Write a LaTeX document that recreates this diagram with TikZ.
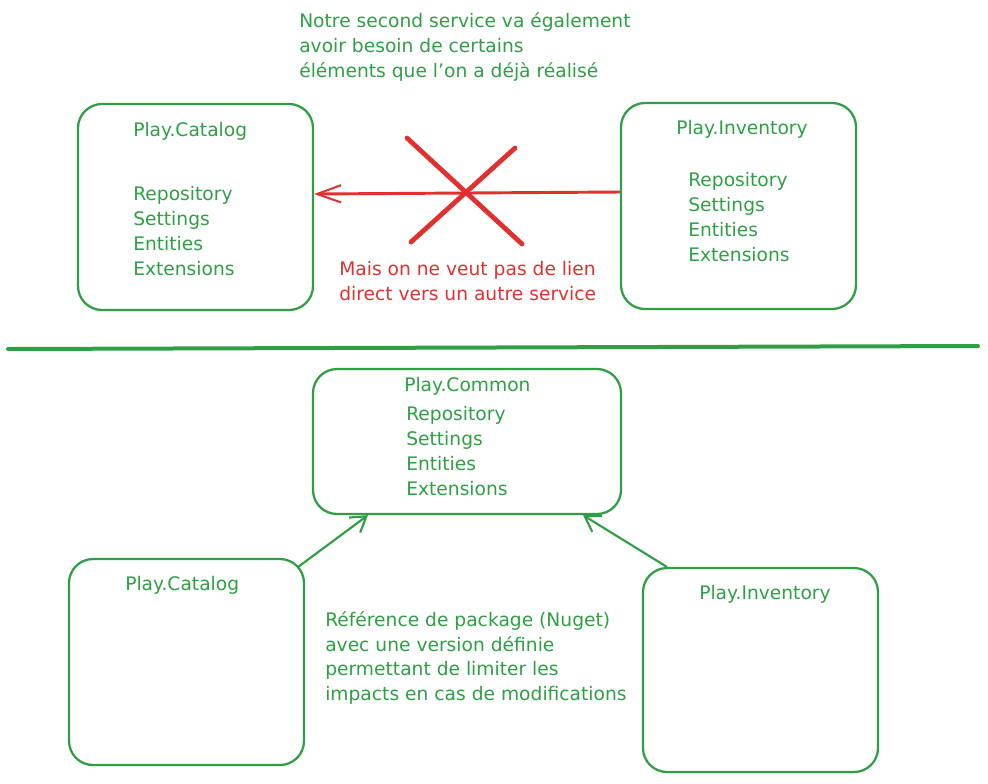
\documentclass[tikz,border=0pt]{standalone}
\usepackage{fontspec}
\setmainfont{DejaVu Sans}
\usetikzlibrary{arrows.meta}
\definecolor{sgreen}{HTML}{2F9E44}
\definecolor{sred}{HTML}{E03131}

\begin{document}
\begin{tikzpicture}[x=0.75pt,y=-0.75pt,
  box/.style={draw=sgreen,line width=1.7pt,rounded corners=18pt,inner sep=0pt,
    minimum width=176.25pt,minimum height=154.5pt},
  item/.style={text=sgreen,font=\fontsize{14}{16}\selectfont,inner sep=0pt,anchor=base west},
  note/.style={item,text=#1},
  dep/.style={draw=sgreen,line width=1.6pt,-{Straight Barb[length=11pt,width=14pt,line width=1.6pt]}},
  nolink/.style={draw=sred,line width=2.2pt,-{Straight Barb[length=18pt,width=13pt,line width=1.5pt]}},
  cross/.style={draw=sred,line width=3.6pt,line cap=round},
  sep/.style={draw=sgreen,line width=3pt,line cap=round}]
\useasboundingbox (0,0) rectangle (988,783);

% note above
\node[note=sgreen] (note1) at (299,27) {Notre second service va également};
\node[note=sgreen] (note2) at (299,52) {avoir besoin de certains};
\node[note=sgreen] (note3) at (299,77) {éléments que l'on a déjà réalisé};

% top services
\node[box] (cattop) at (195.5,207) {};
\node[box] (invtop) at (738.5,206) {};
\node[item] (cattitle) at (133,136) {Play.Catalog};
\node[item] (invtitle) at (676,134) {Play.Inventory};
\foreach \name/\i in {Repository/0,Settings/1,Entities/2,Extensions/3} {
  \node[item] (catitem\i) at (133,200+25*\i) {\name};
  \node[item] (invitem\i) at (688,186+25*\i) {\name};
}

% forbidden direct link
\draw[nolink] ([yshift=10.5pt]invtop.west) -- ([yshift=9.75pt]cattop.east);
\draw[cross] (407,138) -- (522,244);
\draw[cross] (515,148) -- (411,242);
\node[note=sred] (red1) at (339,275) {Mais on ne veut pas de lien};
\node[note=sred] (red2) at (339,300) {direct vers un autre service};

\draw[sep] (8,349) -- (978,346);

% shared package
\node[box,minimum width=231pt,minimum height=108.75pt] (common) at (467,441.5) {};
\node[item] (comtitle) at (404,391) {Play.Common};
\foreach \name/\i in {Repository/0,Settings/1,Entities/2,Extensions/3}
  \node[item] (comitem\i) at (406,420+25*\i) {\name};

\node[box] (catbot) at (186.5,662) {};
\node[box,minimum height=153pt] (invbot) at (760.5,670) {};
\node[item] (catbtitle) at (125,590) {Play.Catalog};
\node[item] (invbtitle) at (699,599) {Play.Inventory};

\draw[dep] ([shift={(-7,9)}]catbot.north east) -- ([xshift=-74.25pt]common.south);
\draw[dep] ([xshift=18.75pt]invbot.north west) -- ([xshift=87pt]common.south);

\node[note=sgreen] (pkg1) at (325,626) {Référence de package (Nuget)};
\node[note=sgreen] (pkg2) at (325,651) {avec une version définie};
\node[note=sgreen] (pkg3) at (325,675) {permettant de limiter les};
\node[note=sgreen] (pkg4) at (325,700) {impacts en cas de modifications};
\end{tikzpicture}
\end{document}
